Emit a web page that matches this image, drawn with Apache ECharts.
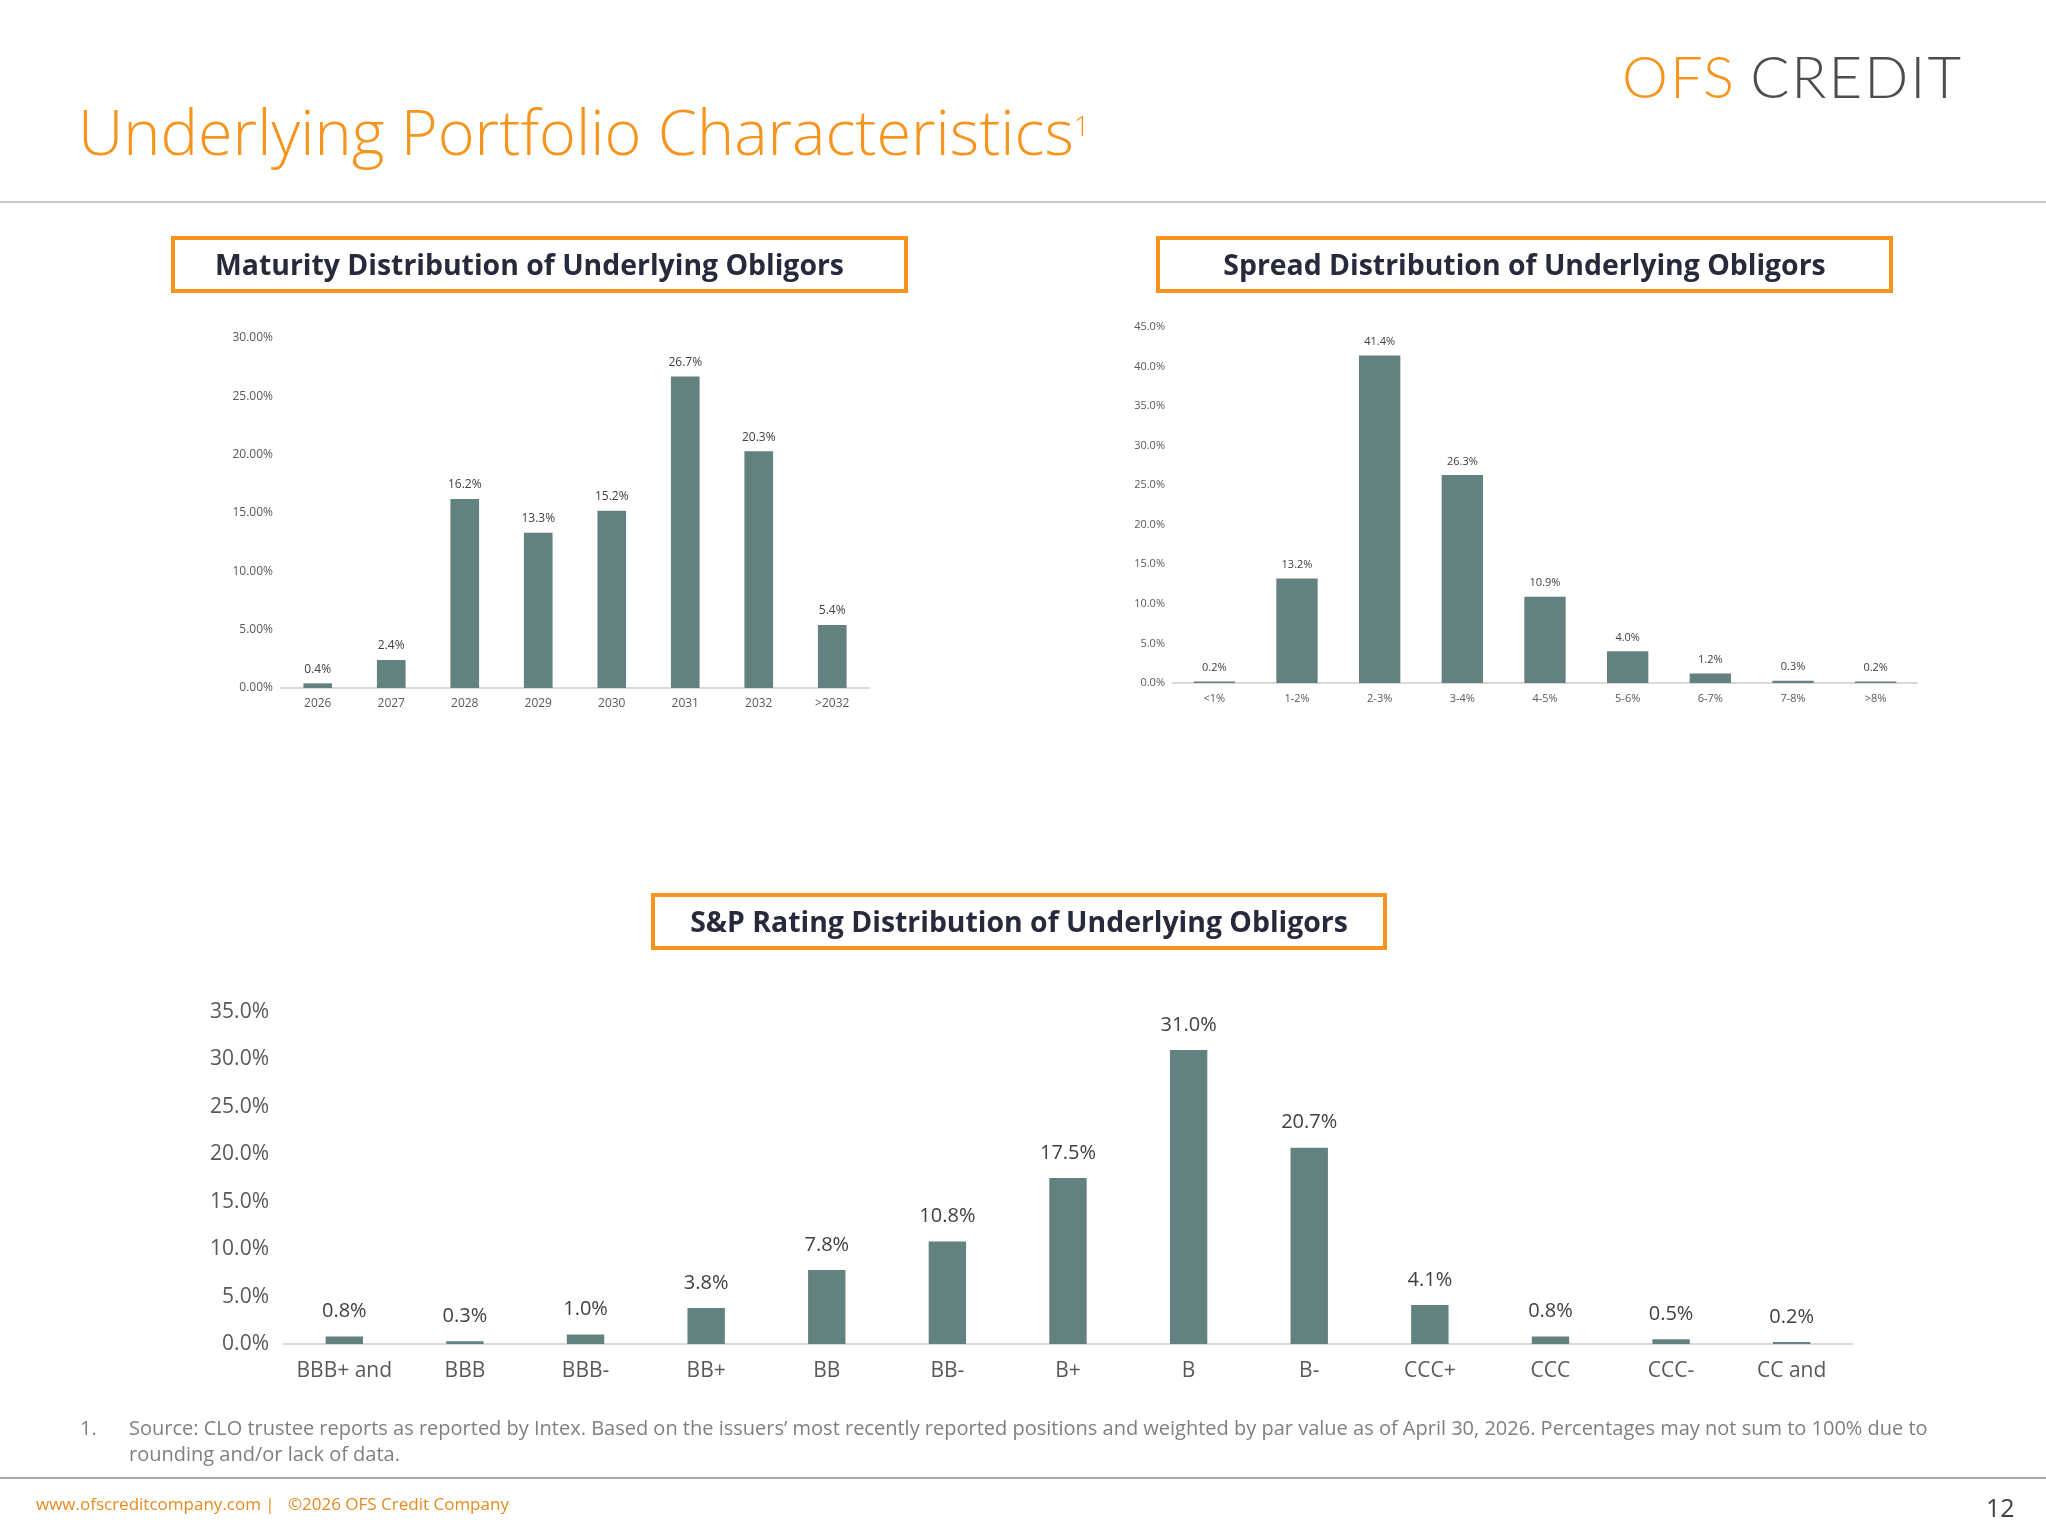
<!DOCTYPE html>
<html><head><meta charset="utf-8">
<script src="https://cdn.jsdelivr.net/npm/echarts@6/dist/echarts.min.js"></script>
<style>
html,body{margin:0;padding:0;background:#fff;}
#page{position:relative;width:2046px;height:1535px;overflow:hidden;font-family:'Open Sans',sans-serif;}
#chart{position:absolute;left:0;top:0;width:2046px;height:1535px;}
.abs{position:absolute;white-space:nowrap;}
.box{position:absolute;border:4px solid #F7941D;box-sizing:border-box;height:57px;font-weight:700;font-size:28.4px;color:#272a3b;line-height:49px;}
</style></head>
<body>
<div id="page">
<div id="chart"></div>
<div class="abs" style="left:78px;top:91px;font-size:63px;font-weight:300;color:#F7941D;line-height:80px;">Underlying Portfolio Characteristics<sup style="font-size:28px;position:relative;top:-6px;vertical-align:top;">1</sup></div>
<div class="abs" style="left:1622px;top:40px;font-family:Lato,sans-serif;font-size:58px;line-height:72px;letter-spacing:2px;"><span style="color:#F7941D;font-weight:300;">OFS</span><span style="color:#4d4d4f;font-weight:300;margin-left:14px;">CREDIT</span></div>
<div class="abs" style="left:0;top:201px;width:2046px;height:2px;background:#c8c8c8;"></div>
<div class="box" style="left:171px;top:236px;width:737px;padding-left:40px;">Maturity Distribution of Underlying Obligors</div>
<div class="box" style="left:1156px;top:236px;width:737px;text-align:center;">Spread Distribution of Underlying Obligors</div>
<div class="box" style="left:651px;top:893px;width:736px;text-align:center;">S&amp;P Rating Distribution of Underlying Obligors</div>
<div class="abs" style="left:80px;top:1415px;font-size:20px;color:#7f7f7f;line-height:26px;">1.</div>
<div class="abs" style="left:129px;top:1415px;font-size:20px;color:#7f7f7f;line-height:26px;white-space:normal;width:1820px;">Source: CLO trustee reports as reported by Intex. Based on the issuers’ most recently reported positions and weighted by par value as of April 30, 2026. Percentages may not sum to 100% due to rounding and/or lack of data.</div>
<div class="abs" style="left:0;top:1477px;width:2046px;height:2px;background:#a6a6a6;"></div>
<div class="abs" style="left:36px;top:1492px;font-size:17px;color:#E8891D;line-height:24px;">www.ofscreditcompany.com |&nbsp;&nbsp; ©2026 OFS Credit Company</div>
<div class="abs" style="left:1986px;top:1492px;font-size:25px;color:#404040;line-height:30px;">12</div>
</div>
<script>
// ---- data ----
var maturityCats = ['2026','2027','2028','2029','2030','2031','2032','>2032'];
var maturityVals = [0.4, 2.4, 16.2, 13.3, 15.2, 26.7, 20.3, 5.4];
var spreadCats = ['<1%','1-2%','2-3%','3-4%','4-5%','5-6%','6-7%','7-8%','>8%'];
var spreadVals = [0.2, 13.2, 41.4, 26.3, 10.9, 4.0, 1.2, 0.3, 0.2];
var ratingCats = ['BBB+ and','BBB','BBB-','BB+','BB','BB-','B+','B','B-','CCC+','CCC','CCC-','CC and'];
var ratingVals = [0.8, 0.3, 1.0, 3.8, 7.8, 10.8, 17.5, 31.0, 20.7, 4.1, 0.8, 0.5, 0.2];

var barColor = '#62817F';
var FONT = "'Open Sans', sans-serif";
function xAx(idx, cats, fs, margin){
  return {type:'category', gridIndex:idx, data:cats,
    axisLine:{lineStyle:{color:'#d9d9d9', width:2}}, axisTick:{show:false},
    axisLabel:{color:'#595959', fontSize:fs, fontFamily:FONT, margin:margin, interval:0}};
}
function yAx(idx, max, interval, dec, fs, margin){
  return {type:'value', gridIndex:idx, min:0, max:max, interval:interval,
    axisLine:{show:false}, axisTick:{show:false}, splitLine:{show:false},
    axisLabel:{color:'#595959', fontSize:fs, fontFamily:FONT, margin:margin,
      formatter:function(v){return v.toFixed(dec)+'%';}}};
}
function ser(idx, vals, bw, fs, dist){
  return {type:'bar', xAxisIndex:idx, yAxisIndex:idx, data:vals, barWidth:bw,
    itemStyle:{color:barColor}, silent:true,
    label:{show:true, position:'top', distance:dist, color:'#404040', fontSize:fs, fontFamily:FONT,
      formatter:function(p){return p.value.toFixed(1)+'%';}}};
}
var chart = echarts.init(document.getElementById('chart'), null, {renderer:'canvas'});
chart.setOption({
  animation:false,
  grid:[
    {left:281, top:338, width:588, height:350},
    {left:1173, top:327, width:744, height:356},
    {left:284, top:1012, width:1568, height:332}
  ],
  xAxis:[xAx(0, maturityCats, 12, 10), xAx(1, spreadCats, 11, 10), xAx(2, ratingCats, 21, 17)],
  yAxis:[yAx(0, 30, 5, 2, 12, 8), yAx(1, 45, 5, 1, 11, 8), yAx(2, 35, 5, 1, 21, 15)],
  series:[ser(0, maturityVals, '39%', 12, 8), ser(1, spreadVals, '50%', 11, 8), ser(2, ratingVals, '31%', 20, 15)]
});
</script>
</body></html>
